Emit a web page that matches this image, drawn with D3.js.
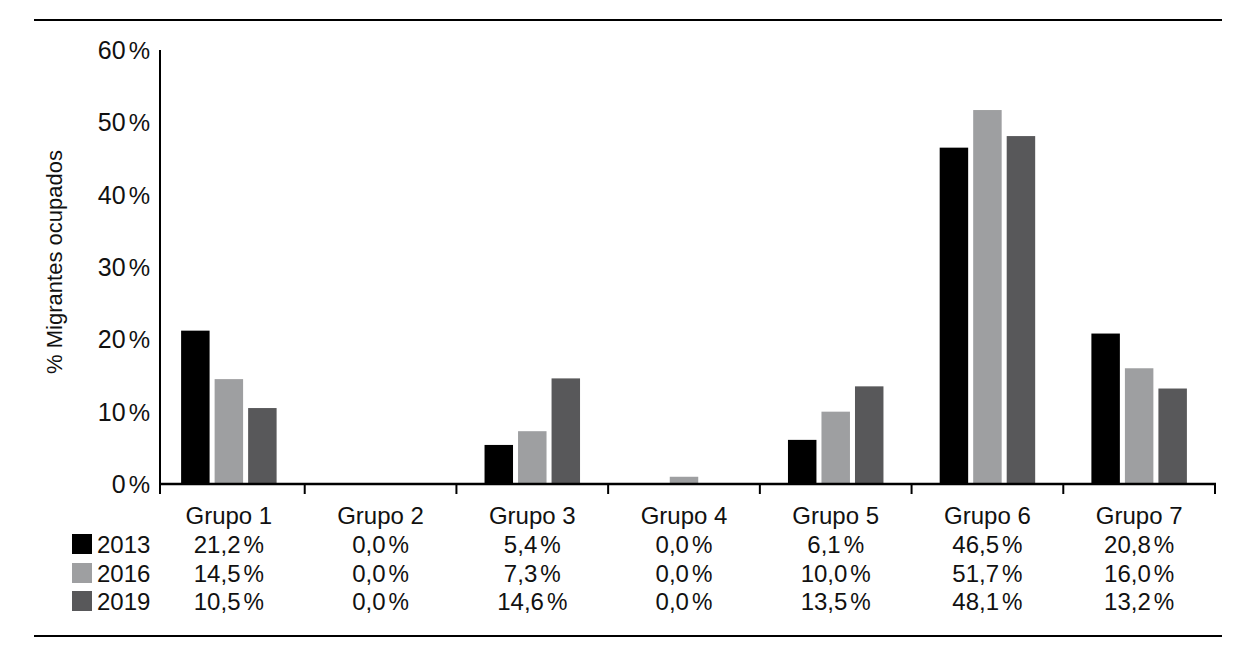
<!DOCTYPE html>
<html>
<head>
<meta charset="utf-8">
<script src="https://cdn.jsdelivr.net/npm/d3@7"></script>
<style>
  body { margin: 0; background: #fff; }
  svg text { font-family: "Liberation Sans", Arial, sans-serif; fill: #111; }
  .pct { font-family: "Liberation Sans", sans-serif; }
</style>
</head>
<body>
<script>
var groups = ["Grupo 1", "Grupo 2", "Grupo 3", "Grupo 4", "Grupo 5", "Grupo 6", "Grupo 7"];
var years = ["2013", "2016", "2019"];
var colors = ["#000000", "#9e9fa1", "#58585a"];
var yTicks = [0, 10, 20, 30, 40, 50, 60];

// bar heights as drawn
var bars2013 = [21.2, 0, 5.4, 0, 6.1, 46.5, 20.8];
var bars2016 = [14.5, 0, 7.3, 1.0, 10.0, 51.7, 16.0];
var bars2019 = [10.5, 0, 14.6, 0, 13.5, 48.1, 13.2];

// values printed in the table under the chart
var table2013 = ["21,2", "0,0", "5,4", "0,0", "6,1", "46,5", "20,8"];
var table2016 = ["14,5", "0,0", "7,3", "0,0", "10,0", "51,7", "16,0"];
var table2019 = ["10,5", "0,0", "14,6", "0,0", "13,5", "48,1", "13,2"];

var series = [bars2013, bars2016, bars2019];
var tables = [table2013, table2016, table2019];

var w = 1249, h = 650;
var axisX = 160, yTop = 50, yBase = 484;

var svg = d3.select("body").append("svg")
  .attr("width", w)
  .attr("height", h);

// top and bottom rules
svg.append("line").attr("x1", 34).attr("x2", 1222).attr("y1", 20).attr("y2", 20)
  .attr("stroke", "#000").attr("stroke-width", 2);
svg.append("line").attr("x1", 34).attr("x2", 1222).attr("y1", 636).attr("y2", 636)
  .attr("stroke", "#000").attr("stroke-width", 2);

var x = d3.scaleBand().domain(groups).range([153, 1215]).padding(0);
var xSub = d3.scaleBand().domain(years).range([0, 95.5]).paddingInner(0.15).paddingOuter(0);
var y = d3.scaleLinear().domain([0, 60]).range([yBase, yTop]);

// bars
years.forEach(function(yr, i){
  svg.selectAll(".bar" + yr)
    .data(series[i])
    .enter()
    .append("rect")
    .attr("x", function(d, j){ return x(groups[j]) + (x.bandwidth() - 95.5) / 2 + xSub(yr); })
    .attr("width", xSub.bandwidth())
    .attr("y", function(d){ return y(d); })
    .attr("height", function(d){ return yBase - y(d); })
    .attr("fill", colors[i]);
});

// y axis
svg.append("line").attr("x1", axisX).attr("x2", axisX).attr("y1", yTop).attr("y2", yBase + 10)
  .attr("stroke", "#000").attr("stroke-width", 2);

var yl = svg.selectAll(".ylab")
  .data(yTicks)
  .enter()
  .append("text")
  .attr("x", 150)
  .attr("y", function(d){ return y(d); })
  .attr("dy", "0.36em")
  .attr("text-anchor", "end")
  .attr("font-size", 25);
yl.append("tspan").text(function(d){ return d; });
yl.append("tspan").attr("class", "pct").attr("dx", 3).attr("font-size", 24).text("%");

// x axis line with ticks at band edges
svg.append("line").attr("x1", axisX).attr("x2", 1216).attr("y1", yBase).attr("y2", yBase)
  .attr("stroke", "#000").attr("stroke-width", 2.5);
svg.selectAll(".xtick")
  .data(groups.slice(1).concat(["end"]))
  .enter()
  .append("line")
  .attr("x1", function(d){ return d == "end" ? 1215 : x(d); })
  .attr("x2", function(d){ return d == "end" ? 1215 : x(d); })
  .attr("y1", yBase)
  .attr("y2", yBase + 10)
  .attr("stroke", "#000")
  .attr("stroke-width", 2);

// axis title
svg.append("text")
  .attr("transform", "translate(62,262) rotate(-90)")
  .attr("text-anchor", "middle")
  .attr("font-size", 22)
  .text("% Migrantes ocupados");

// table: group names
svg.selectAll(".gname")
  .data(groups)
  .enter()
  .append("text")
  .attr("x", function(d){ return x(d) + x.bandwidth() / 2; })
  .attr("y", 524)
  .attr("text-anchor", "middle")
  .attr("font-size", 24)
  .text(function(d){ return d; });

// table rows
var rowY = [553, 582, 610];
years.forEach(function(yr, i){
  svg.append("rect")
    .attr("x", 72).attr("y", rowY[i] - 19)
    .attr("width", 20).attr("height", 20)
    .attr("fill", colors[i]);
  svg.append("text")
    .attr("x", 97).attr("y", rowY[i])
    .attr("font-size", 24)
    .text(yr);

  var t = svg.selectAll(".row" + yr)
    .data(tables[i])
    .enter()
    .append("text")
    .attr("x", function(d, j){ return x(groups[j]) + x.bandwidth() / 2; })
    .attr("y", rowY[i])
    .attr("text-anchor", "middle")
    .attr("font-size", 24);
  t.append("tspan").text(function(d){ return d; });
  t.append("tspan").attr("class", "pct").attr("dx", 3).attr("font-size", 23).text("%");
});
</script>
</body>
</html>
